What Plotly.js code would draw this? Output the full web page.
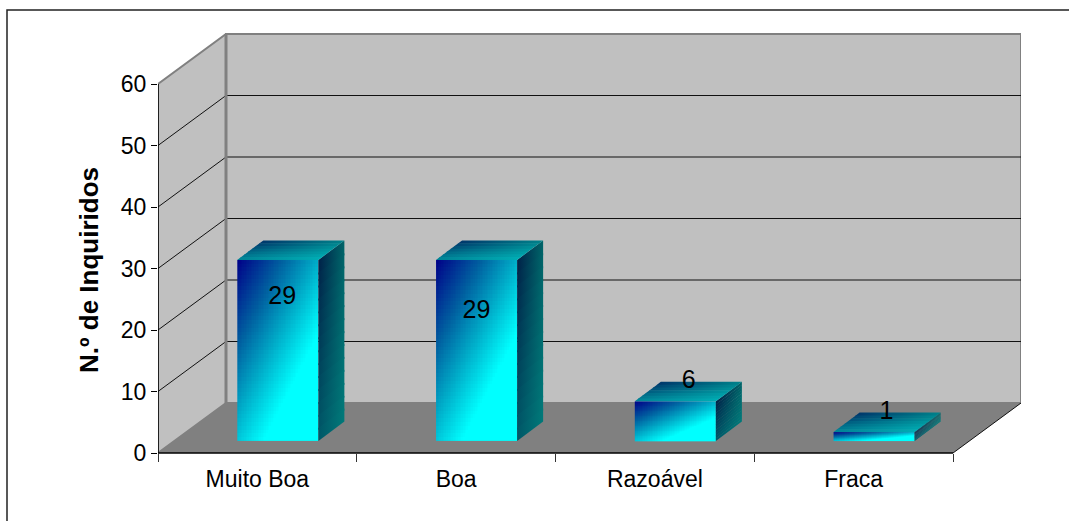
<!DOCTYPE html>
<html>
<head>
<meta charset="utf-8">
<script src="https://cdn.plot.ly/plotly-3.0.1.min.js"></script>
<style>html,body{margin:0;padding:0;background:#fff;overflow:hidden}</style>
</head>
<body>
<div id="chart" style="width:1069px;height:521px"></div>
<script>
// ---- data ----
const categories = ['Muito Boa', 'Boa', 'Razoável', 'Fraca'];
const respondents = [29, 29, 6, 1];
const yTicks = [0, 10, 20, 30, 40, 50, 60];
const yTitle = 'N.º de Inquiridos';

// ---- 3D look (axis units) ----
const wallDx = 68 / 198.75, wallDy = 50 / 6.15;
const barDx = 26 / 198.75, barDy = 19.5 / 6.15;
const barShift = 0.103, barHalf = 0.204;
const barBase = 1.95, barLift = 2.4;
const labelDx = [0.022, -0.001, 0.067, 0.062];
const labelDy = [-6.1, -8.5, 3.2, 3.15];
const font = 'Liberation Sans, Arial, sans-serif';
const xMin = -0.5, xMax = 3.5, yMax = 60;
const pathOf = pts => 'M' + pts.map(p => p[0] + ' ' + p[1]).join('L') + 'Z';
const lineOf = (pts, color, width) => ({type: 'path', xref: 'x', yref: 'y', layer: 'below', path: 'M' + pts.map(p => p[0] + ' ' + p[1]).join('L'), line: {color, width}});

const shapes = [];
// side wall, back wall, floor
shapes.push({type: 'path', xref: 'x', yref: 'y', layer: 'below', fillcolor: '#c0c0c0', line: {color: '#808080', width: 2},
  path: pathOf([[xMin, 0], [xMin + wallDx, wallDy], [xMin + wallDx, yMax + wallDy], [xMin, yMax]])});
shapes.push({type: 'path', xref: 'x', yref: 'y', layer: 'below', fillcolor: '#c0c0c0', line: {color: '#808080', width: 2},
  path: pathOf([[xMin + wallDx, wallDy], [xMax + wallDx, wallDy], [xMax + wallDx, yMax + wallDy], [xMin + wallDx, yMax + wallDy]])});
shapes.push({type: 'path', xref: 'x', yref: 'y', layer: 'below', fillcolor: '#808080', line: {width: 0},
  path: pathOf([[xMin, 0], [xMax, 0], [xMax + wallDx, wallDy], [xMin + wallDx, wallDy]])});
yTicks.filter(v => v > 0 && v < yMax).forEach(v => {
  shapes.push(lineOf([[xMin, v], [xMin + wallDx, v + wallDy], [xMax + wallDx, v + wallDy]], '#111', 1));
});
shapes.push(lineOf([[xMin + wallDx, wallDy], [xMin + wallDx, yMax + wallDy]], '#808080', 3));
shapes.push(lineOf([[xMax, 0], [xMax + wallDx, wallDy]], '#111', 1));
shapes.push(lineOf([[xMin, 0], [xMin, yMax]], '#000', 1.5));
shapes.push(lineOf([[xMin, 0], [xMax, 0]], '#000', 1.5));
// outer chart frame, running off the right and bottom of the window
const W = 1069 - 158 - 48, H = 507 - 33;
shapes.push({type: 'path', xref: 'paper', yref: 'paper', layer: 'above', line: {color: '#222', width: 1.5},
  path: `M${(1075 - 158) / W} ${(507 - 10) / H}L${(7 - 158) / W} ${(507 - 10) / H}L${(7 - 158) / W} ${(507 - 530) / H}`});

const hex = (r, g, b) => 'rgb(' + [r, g, b].map(Math.round).join(',') + ')';
const mix = (a, b, t) => hex(a[0] + (b[0] - a[0]) * t, a[1] + (b[1] - a[1]) * t, a[2] + (b[2] - a[2]) * t);
const band = (xs, ys, c0, c1) => ({type: 'scatter', mode: 'none', hoverinfo: 'skip', showlegend: false, cliponaxis: false,
  x: xs, y: ys, fill: 'toself', fillgradient: {type: 'horizontal', colorscale: [[0, c0], [1, c1]]}});

const traces = [];
const steps = 48, sideBands = 14, topBands = 7;
const seq = (a, b) => Array.from({length: steps + 1}, (_, i) => a + (b - a) * i / steps);
respondents.forEach((v, i) => {
  const x0 = i + barShift - barHalf, x1 = i + barShift + barHalf;
  const y0 = barBase, y1 = v + barLift;
  // front face
  const xs = seq(x0, x1), ys = seq(y0, y1);
  const z = [];
  for (let r = 0; r < steps; r++) {
    const row = [];
    for (let c = 0; c < steps; c++) {
      const u = (c + 0.5) / steps, d = 1 - (r + 0.5) / steps;
      row.push(Math.min(1, 0.68 * u + 0.78 * d));
    }
    z.push(row);
  }
  traces.push({type: 'heatmap', x: xs, y: ys, z, zmin: 0, zmax: 1, showscale: false, hoverinfo: 'skip',
    colorscale: [[0, '#000088'], [0.38, '#0060a0'], [0.66, '#00a8c6'], [1, '#00ffff']]});
  // right side: horizontal gradient whose colours shift from top to bottom
  for (let b = 0; b < sideBands; b++) {
    const t = (b + 0.5) / sideBands;
    const hi = y1 - (y1 - y0) * b / sideBands;
    const lo = Math.max(y0, y1 - (y1 - y0) * (b + 1.15) / sideBands);
    traces.push(band([x1, x1 + barDx, x1 + barDx, x1, x1], [lo, lo + barDy, hi + barDy, hi, lo],
      mix([0, 32, 72], [0, 88, 104], t), mix([0, 100, 104], [0, 122, 122], t)));
  }
  // top: from back edge to front edge
  for (let b = 0; b < topBands; b++) {
    const t = (b + 0.5) / topBands;
    const f0 = b / topBands, f1 = Math.min(1, (b + 1.2) / topBands);
    const sA = barDx * (1 - f0), sB = barDx * (1 - f1);
    const yA = y1 + barDy * (1 - f0), yB = y1 + barDy * (1 - f1);
    traces.push(band([x0 + sA, x1 + sA, x1 + sB, x0 + sB, x0 + sA], [yA, yA, yB, yB, yA],
      mix([0, 48, 104], [0, 136, 152], t), mix([0, 128, 136], [0, 176, 184], t)));
  }
});
// value labels
traces.push({type: 'scatter', mode: 'text', showlegend: false, hoverinfo: 'skip', cliponaxis: false,
  x: respondents.map((v, i) => i + barShift + labelDx[i]),
  y: respondents.map((v, i) => v + barLift + labelDy[i]),
  text: respondents.map(String), textposition: 'middle center',
  textfont: {family: font, size: 25, color: '#000'}});

const layout = {
  width: 1069, height: 521, autosize: false, showlegend: false,
  paper_bgcolor: '#fff', plot_bgcolor: 'rgba(0,0,0,0)',
  margin: {l: 158, r: 48, t: 33, b: 14, pad: 0},
  shapes,
  xaxis: {
    type: 'linear', range: [xMin, xMax + wallDx], anchor: 'free', position: (507 - 453) / H,
    tickmode: 'array', tickvals: categories.map((c, i) => i), ticktext: categories,
    ticks: 'outside', ticklen: 5, tickcolor: 'rgba(0,0,0,0)',
    minor: {tickmode: 'array', tickvals: [-0.5, 0.5, 1.5, 2.5, 3.5], ticks: 'outside', ticklen: 8, tickcolor: '#333', tickwidth: 1, showgrid: false},
    showgrid: false, zeroline: false, showline: false,
    tickfont: {family: font, size: 23, color: '#000'}
  },
  yaxis: {
    type: 'linear', range: [-(507 - 453) / 6.15, (453 - 33) / 6.15],
    tickmode: 'array', tickvals: yTicks, ticktext: yTicks.map(String),
    ticks: 'outside', ticklen: 6, tickcolor: '#000', tickwidth: 1,
    showgrid: false, zeroline: false, showline: false,
    tickfont: {family: font, size: 23, color: '#000'},
    title: {text: yTitle, standoff: 14, font: {family: font, size: 26, color: '#000', weight: 'bold'}}
  }
};
Plotly.newPlot('chart', traces, layout, {staticPlot: true, displayModeBar: false});
</script>
</body>
</html>
